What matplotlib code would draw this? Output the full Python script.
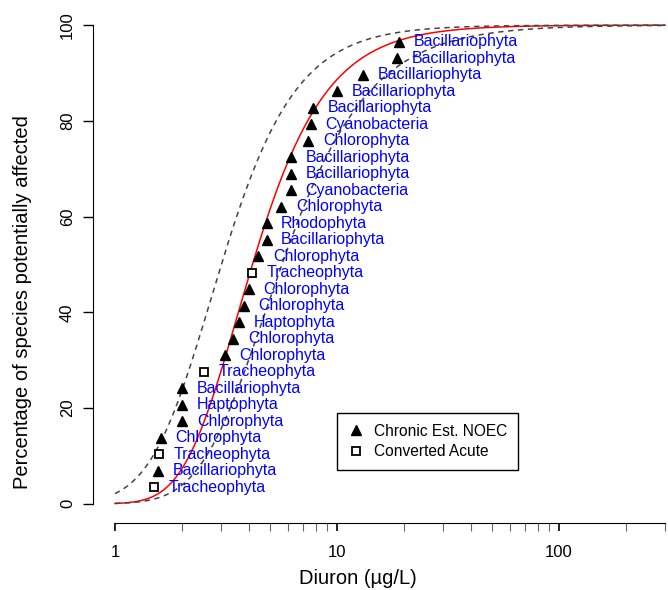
import numpy as np
import matplotlib
matplotlib.use("Agg")
import matplotlib.pyplot as plt
from matplotlib.ticker import FixedLocator, NullFormatter, FixedFormatter
from matplotlib.lines import Line2D

plt.rcParams['font.family'] = ['Liberation Sans', 'DejaVu Sans']

# species sensitivity data, lowest first
taxa = ["Tracheophyta", "Bacillariophyta", "Tracheophyta", "Chlorophyta",
        "Chlorophyta", "Haptophyta", "Bacillariophyta", "Tracheophyta",
        "Chlorophyta", "Chlorophyta", "Haptophyta", "Chlorophyta",
        "Chlorophyta", "Tracheophyta", "Chlorophyta", "Bacillariophyta",
        "Rhodophyta", "Chlorophyta", "Cyanobacteria", "Bacillariophyta",
        "Bacillariophyta", "Chlorophyta", "Cyanobacteria", "Bacillariophyta",
        "Bacillariophyta", "Bacillariophyta", "Bacillariophyta", "Bacillariophyta"]
conc = [1.50, 1.57, 1.58, 1.61, 2.01, 2.01, 2.01, 2.51, 3.12, 3.41, 3.61, 3.81,
        4.01, 4.13, 4.42, 4.82, 4.82, 5.61, 6.18, 6.20, 6.20, 7.43, 7.62, 7.82,
        10.0, 13.1, 18.6, 19.1]
acute = [True, False, True, False, False, False, False, True, False, False, False,
         False, False, True, False, False, False, False, False, False, False,
         False, False, False, False, False, False, False]

# Burr type III fits (b, c, k): fitted SSD and the two confidence bounds
fit_mid = (1.514, 2.05, 5.84)
fit_upper = (1.698, 2.15, 2.71)
fit_lower = (1.900, 1.75, 5.00)
curve_range = (1, 300)


def burr(x, b, c, k):
    return 100 * (1 + (b / x) ** c) ** (-k)


W, H = 668, 590
fig = plt.figure(figsize=(W / 100, H / 100), dpi=100)
left, right, bottom, top = 93, 687, 523, 6
ax = fig.add_axes([left / W, 1 - bottom / H, (right - left) / W, (bottom - top) / H])
ax.set_xscale('log')
ax.set_xlim(10 ** -0.099, 10 ** 2.576)
ax.set_ylim(-4, 104)

xx = np.logspace(np.log10(curve_range[0]), np.log10(curve_range[1]), 400)
ax.plot(xx, burr(xx, *fit_mid), color='red', lw=1.1)
for p in (fit_upper, fit_lower):
    ax.plot(xx, burr(xx, *p), color='#444444', lw=1.1, dashes=(3.5, 3))

n = len(conc)
pct = 100 * np.arange(1, n + 1) / (n + 1)
conc_a = np.array(conc)
acute_a = np.array(acute)
ax.plot(conc_a[~acute_a], pct[~acute_a], '^', color='black', ms=7.5, ls='none')
ax.plot(conc_a[acute_a], pct[acute_a], 's', mfc='white', mec='black', mew=1.3, ms=6, ls='none')
for x, y, t in zip(conc, pct, taxa):
    ax.annotate(t, (x, y), xytext=(10.5, 0), textcoords='offset points',
                va='center', ha='left', color='blue', fontsize=11.5)

for s in ['top', 'right']:
    ax.spines[s].set_visible(False)
ax.spines['left'].set_bounds(0, 100)
ax.spines['bottom'].set_bounds(1, 300)
ax.xaxis.set_major_locator(FixedLocator([1, 10, 100]))
ax.xaxis.set_major_formatter(FixedFormatter(['1', '10', '100']))
minors = [m * d for d in (1, 10) for m in range(2, 10)] + [200, 300]
ax.xaxis.set_minor_locator(FixedLocator(minors))
ax.xaxis.set_minor_formatter(NullFormatter())
ax.tick_params(axis='x', which='major', length=6, width=1.2, pad=10, labelsize=12)
ax.tick_params(axis='x', which='minor', length=6, width=0.8, color='#666666')
ax.set_yticks([0, 20, 40, 60, 80, 100])
ax.tick_params(axis='y', length=7, width=1.0, pad=6, labelsize=12)
for lab in ax.get_yticklabels():
    lab.set_rotation(90)
    lab.set_va('center')

fig.text(358 / W, 1 - 579 / H, "Diuron (µg/L)", ha='center', va='center', fontsize=14.5)
fig.text(23 / W, 1 - 302 / H, "Percentage of species potentially affected",
         ha='center', va='center', rotation=90, fontsize=14.5)

handles = [Line2D([], [], marker='^', color='black', ls='none', ms=7.5),
           Line2D([], [], marker='s', mfc='white', mec='black', mew=1.3, ls='none', ms=6)]
leg = ax.legend(handles, ["Chronic Est. NOEC", "Converted Acute"], loc='upper left',
                bbox_to_anchor=(337 / W, 1 - 413 / H), bbox_transform=fig.transFigure,
                fontsize=11.2, fancybox=False, edgecolor='black', framealpha=1,
                handlelength=1.0, handletextpad=0.7, borderpad=0.7, labelspacing=0.35,
                borderaxespad=0)
leg.get_frame().set_linewidth(1.0)

fig.savefig("out.png", dpi=100)
